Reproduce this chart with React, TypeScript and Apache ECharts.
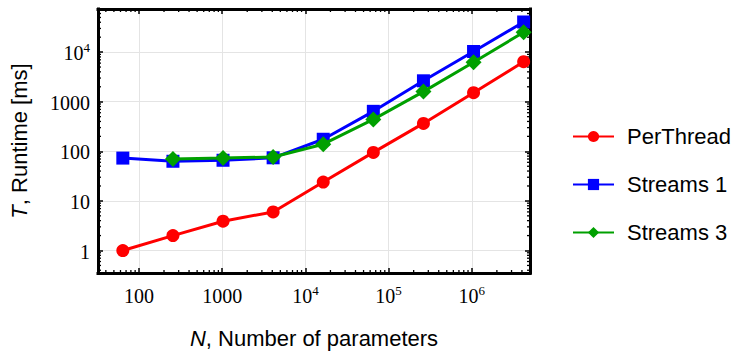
import React, { useEffect, useRef } from "react";
import * as echarts from "echarts";

const paramCounts = [64, 256, 1024, 4096, 16384, 65536, 262144, 1048576, 4194304];
const perThread = [1, 2, 3.9, 6, 24, 95, 365, 1520, 6400];
const streams1 = [73, 63, 66, 74, 175, 640, 2640, 10300, 40500];
const streams3 = [null, 70, 73, 77, 139, 440, 1600, 6250, 25200];
const seriesNames = ["PerThread", "Streams 1", "Streams 3"];
const seriesColors = ["#ff0000", "#0000ff", "#00a000"];
const seriesSymbols = ["circle", "rect", "diamond"];

const X_MIN = 32.2;
const X_MAX = 5.0e6;
const Y_MIN = 0.352;
const Y_MAX = 74000;

const SERIF = "Liberation Serif";
const SANS = "Liberation Sans";

function isDecade(v: number) {
  const l = Math.log10(v);
  return Math.abs(l - Math.round(l)) < 1e-6;
}

function decadeLabel(v: number, plainMax: number) {
  if (!isDecade(v)) return "";
  const e = Math.round(Math.log10(v));
  if (e <= plainMax) return `{n|${Math.round(v)}}`;
  return `{n|10}{sup|${e}}`;
}

function minorTicks(lo: number, hi: number) {
  const out: number[] = [];
  for (let k = -1; k <= 7; k++) {
    for (let d = 2; d <= 9; d++) {
      const v = d * Math.pow(10, k);
      if (v > lo && v < hi) out.push(v);
    }
  }
  return out;
}

export default function App() {
  const ref = useRef<HTMLDivElement>(null);
  useEffect(() => {
    document.body.style.margin = "0";
    const chart = echarts.init(ref.current!, null, { renderer: "svg" });
    const labelRich = {
      n: { fontSize: 20, fontFamily: SERIF, color: "#000", verticalAlign: "bottom", lineHeight: 22 },
      sup: { fontSize: 13, fontFamily: SERIF, color: "#000", padding: [0, 0, 9, 0], verticalAlign: "bottom", lineHeight: 22 },
    };
    const axisCommon = {
      type: "log",
      logBase: 10,
      axisLine: { show: true, onZero: false, lineStyle: { color: "#000", width: 3, cap: "square" } },
      axisTick: { show: true, inside: true, length: 5, lineStyle: { color: "#000", width: 1.5 } },
    };
    const lineSeries = [perThread, streams1, streams3].map((vals, i) => ({
      name: seriesNames[i],
      type: "line",
      xAxisIndex: 0,
      yAxisIndex: 0,
      data: paramCounts
        .map((n, j) => (vals[j] == null ? null : [n, vals[j]]))
        .filter((d) => d !== null),
      symbol: seriesSymbols[i],
      symbolSize: i === 2 ? 16 : 13,
      color: seriesColors[i],
      lineStyle: { width: 3, color: seriesColors[i] },
      itemStyle: { color: seriesColors[i] },
      z: 10 + i,
    }));
    const xMinor = minorTicks(X_MIN, X_MAX).map((v) => [v, Y_MIN]);
    const yMinor = minorTicks(Y_MIN, Y_MAX).map((v) => [X_MIN, v]);
    const tick = (x1: number, y1: number, x2: number, y2: number) => ({
      type: "line",
      shape: { x1, y1, x2, y2 },
      style: { stroke: "#000", lineWidth: 1.3 },
    });
    chart.setOption({
      animation: false,
      backgroundColor: "#fff",
      grid: {
        left: 97,
        top: 9,
        right: 203,
        bottom: 76,
        show: false,
      },
      legend: {
        orient: "vertical",
        left: 567,
        top: 119,
        itemWidth: 41,
        itemHeight: 14,
        itemGap: 23,
        data: seriesNames,
        textStyle: { fontFamily: SANS, fontSize: 22, color: "#000", lineHeight: 25, padding: [0, 0, 0, 8] },
      },
      xAxis: [
        {
          ...axisCommon,
          position: "bottom",
          min: X_MIN,
          max: X_MAX,
          name: "{i|N}, Number of parameters",
          nameLocation: "middle",
          nameGap: 54,
          nameTextStyle: {
            fontFamily: SANS,
            fontSize: 22,
            color: "#000",
            rich: { i: { fontFamily: SANS, fontSize: 22, fontStyle: "italic", color: "#000" } },
          },
          axisLabel: {
            show: true,
            margin: 11,
            fontFamily: SERIF,
            fontSize: 20,
            color: "#000",
            showMinLabel: false,
            showMaxLabel: false,
            formatter: (v: number) => decadeLabel(v, 3),
            rich: labelRich,
          },
          splitLine: { show: true, lineStyle: { color: "#e4e4e4", width: 1 } },
        },
        {
          ...axisCommon,
          position: "top",
          min: X_MIN,
          max: X_MAX,
          axisLabel: { show: false },
          splitLine: { show: false },
        },
      ],
      yAxis: [
        {
          ...axisCommon,
          position: "left",
          min: Y_MIN,
          max: Y_MAX,
          name: "{i|T}, Runtime [ms]",
          nameLocation: "middle",
          nameRotate: 90,
          nameGap: 68,
          nameTextStyle: {
            fontFamily: SANS,
            fontSize: 22,
            color: "#000",
            rich: { i: { fontFamily: SANS, fontSize: 22, fontStyle: "italic", color: "#000" } },
          },
          axisLabel: {
            show: true,
            margin: 8,
            fontFamily: SERIF,
            fontSize: 20,
            color: "#000",
            showMinLabel: false,
            showMaxLabel: false,
            formatter: (v: number) => decadeLabel(v, 3),
            rich: labelRich,
          },
          splitLine: { show: true, lineStyle: { color: "#e4e4e4", width: 1 } },
        },
        {
          ...axisCommon,
          position: "right",
          min: Y_MIN,
          max: Y_MAX,
          axisLabel: { show: false },
          splitLine: { show: false },
        },
      ],
      series: [
        ...lineSeries,
        {
          type: "custom",
          xAxisIndex: 0,
          yAxisIndex: 0,
          silent: true,
          z: 5,
          data: xMinor,
          renderItem: (_p: any, api: any) => {
            const v = api.value(0);
            const b = api.coord([v, Y_MIN]);
            const t = api.coord([v, Y_MAX]);
            return {
              type: "group",
              children: [tick(b[0], b[1], b[0], b[1] - 3), tick(t[0], t[1], t[0], t[1] + 3)],
            };
          },
        },
        {
          type: "custom",
          xAxisIndex: 0,
          yAxisIndex: 0,
          silent: true,
          z: 5,
          data: yMinor,
          renderItem: (_p: any, api: any) => {
            const v = api.value(1);
            const l = api.coord([X_MIN, v]);
            const r = api.coord([X_MAX, v]);
            return {
              type: "group",
              children: [tick(l[0], l[1], l[0] + 3, l[1]), tick(r[0], r[1], r[0] - 3, r[1])],
            };
          },
        },
      ],
    });
    return () => chart.dispose();
  }, []);
  return <div ref={ref} style={{ width: 733, height: 354 }} />;
}
